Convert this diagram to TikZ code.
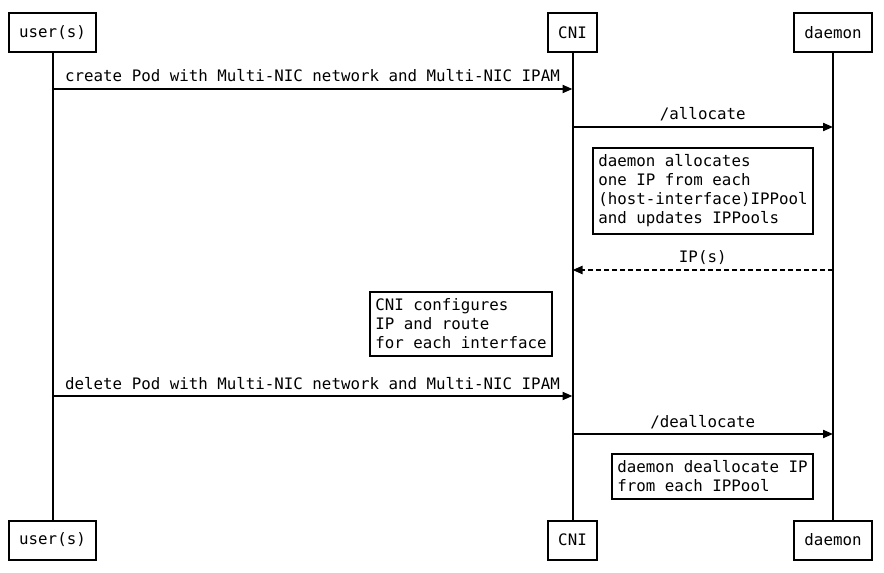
\documentclass[tikz,border=0pt]{standalone}
\usepackage{fontspec}
\setmonofont{DejaVu Sans Mono}
\usetikzlibrary{arrows.meta,positioning,calc}
\tikzset{>={Triangle[length=7.5pt,width=6pt]}}
\tikzset{
  seqfont/.style={font=\ttfamily\fontsize{11.85}{14.3}\selectfont},
  actor/.style={draw,line width=1.5pt,seqfont,minimum height=29.25pt,inner xsep=7.6pt},
  note/.style={draw,line width=1.5pt,seqfont,align=left,inner xsep=4pt,inner ysep=5pt,anchor=north west},
  life/.style={line width=1.5pt},
  msg/.style={->,line width=1.5pt},
  reply/.style={msg,dash pattern=on 4pt off 2pt},
  lbl/.style={seqfont,anchor=base,yshift=5.25pt,inner sep=0pt}
}

\begin{document}
\begin{tikzpicture}[x=0.75pt,y=-0.75pt]
		\useasboundingbox (0,0) rectangle (884,573);
		% participants
		\node[actor] (usertop) at (52.5,32.5) {user(s)};
		\node[actor] (cnitop) at (572.5,32.5) {CNI};
		\node[actor] (daemontop) at (833,32.5) {daemon};
		\node[actor] (userbot) at (52.5,540) {user(s)};
		\node[actor] (cnibot) at (572.5,540) {CNI};
		\node[actor] (daemonbot) at (833,540) {daemon};
		\draw[life] (usertop) -- (userbot);
		\draw[life] (cnitop) -- (cnibot);
		\draw[life] (daemontop) -- (daemonbot);
		% create
		\draw[msg] (usertop |- 0,89) -- node[lbl] {create Pod with Multi-NIC network and Multi-NIC IPAM} (cnitop |- 0,89);
		\draw[msg] (cnitop |- 0,127) -- node[lbl] {/allocate} (daemontop |- 0,127);
		\node[note] (allocnote) at (592,147) {daemon allocates\\one IP from each\\(host-interface)IPPool\\and updates IPPools};
		\draw[reply] (daemontop |- 0,270) -- node[lbl] {IP(s)} (cnitop |- 0,270);
		\node[note] (cninote) at (369,291) {CNI configures\\IP and route\\for each interface};
		% delete
		\draw[msg] (usertop |- 0,396) -- node[lbl] {delete Pod with Multi-NIC network and Multi-NIC IPAM} (cnitop |- 0,396);
		\draw[msg] (cnitop |- 0,434) -- node[lbl] {/deallocate} (daemontop |- 0,434);
		\node[note] (deallocnote) at (611,453) {daemon deallocate IP\\from each IPPool};
	\end{tikzpicture}
\end{document}
